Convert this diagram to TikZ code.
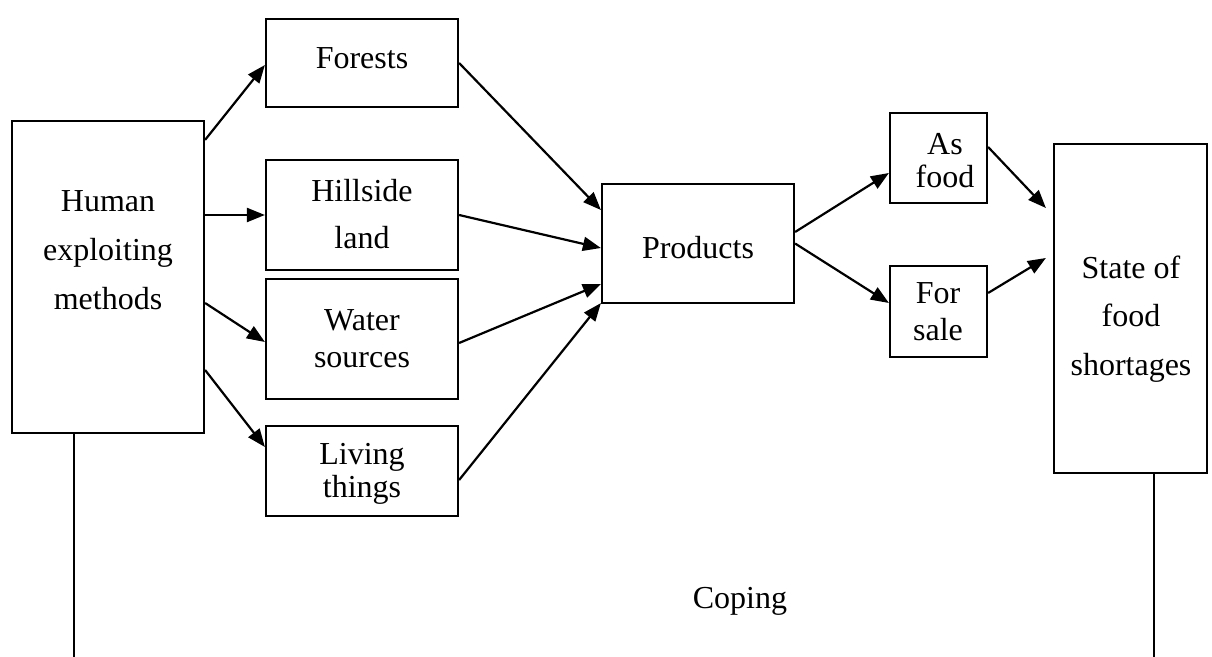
\documentclass[tikz,border=0pt]{standalone}
\usepackage{fontspec}
\setmainfont{Liberation Serif}
\usetikzlibrary{arrows.meta}
\begin{document}
\begin{tikzpicture}[x=0.5pt,y=-0.5pt,
  box/.style={draw,line width=1.1pt,inner sep=0pt,minimum width=#1},
  box/.default=96pt,
  lbl/.style={align=center,inner sep=0pt},
  arr/.style={line width=1.1pt,-{Triangle[length=9pt,width=7pt]}},
  ln/.style={line width=1.1pt}]
\useasboundingbox (0,0) rectangle (1212,657);
% boxes
\node[box,minimum height=156pt] (human) at (108,277) {};
\node[box,minimum height=44pt] (forests) at (362,63) {};
\node[box,minimum height=55pt] (hill) at (362,215) {};
\node[box,minimum height=60pt] (water) at (362,339) {};
\node[box,minimum height=45pt] (living) at (362,471) {};
\node[box,minimum height=59.5pt] (products) at (698,243.5) {};
\node[box=48.5pt,minimum height=45pt] (asfood) at (938.5,158) {};
\node[box=48.5pt,minimum height=45.5pt] (forsale) at (938.5,311.5) {};
\node[box=76.5pt,minimum height=164.5pt] (state) at (1130.5,308.5) {};
% texts
\node[lbl,font=\fontsize{16pt}{24.5pt}\selectfont] (humanT) at (108,250) {Human\\exploiting\\methods};
\node[lbl,font=\fontsize{16pt}{19pt}\selectfont] (forestsT) at (362,58) {Forests};
\node[lbl,font=\fontsize{16pt}{23.5pt}\selectfont] (hillT) at (362,214) {Hillside\\land};
\node[lbl,font=\fontsize{16pt}{18.5pt}\selectfont] (waterT) at (362,339) {Water\\sources};
\node[lbl,font=\fontsize{16pt}{16.5pt}\selectfont] (livingT) at (362,474) {Living\\things};
\node[lbl,font=\fontsize{16pt}{19pt}\selectfont] (productsT) at (698,248) {Products};
\node[lbl,font=\fontsize{16pt}{16.5pt}\selectfont] (asfoodT) at (945,161) {As\\food};
\node[lbl,font=\fontsize{16pt}{18.5pt}\selectfont] (forsaleT) at (938,312) {For\\sale};
\node[lbl,font=\fontsize{16pt}{24.25pt}\selectfont] (stateT) at (1131,319) {State of\\food\\shortages};
\node[lbl,font=\fontsize{16pt}{19pt}\selectfont] (coping) at (740,601) {Coping};
% free ends
\coordinate (hb) at (74,657);
\coordinate (sb) at (1154,657);
% connectors
\draw[arr] ([yshift=-10pt]human.north east) -- ([yshift=-1pt]forests.west);
\draw[arr] (human.east |- hill.west) -- (hill.west);
\draw[arr] ([yshift=-13pt]human.east) -- ([yshift=-1.5pt]water.west);
\draw[arr] ([yshift=-46.5pt]human.east) -- ([yshift=12pt]living.west);
\draw[arr] (forests.east) -- ([yshift=16.75pt]products.west);
\draw[arr] (hill.east) -- ([yshift=-2.25pt]products.west);
\draw[arr] ([yshift=-2pt]water.east) -- ([yshift=-20.25pt]products.west);
\draw[arr] ([yshift=-4.5pt]living.east) -- ([yshift=0.5pt]products.south west);
\draw[arr] ([yshift=5.75pt]products.east) -- ([yshift=-7.5pt]asfood.west);
\draw[arr] (products.east) -- ([yshift=4.25pt]forsale.west);
\draw[arr] ([yshift=5.5pt]asfood.east) -- ([xshift=-3.5pt,yshift=50.25pt]state.west);
\draw[arr] ([yshift=9.25pt]forsale.east) -- ([xshift=-3.5pt,yshift=25.25pt]state.west);
\draw[ln] (human.south -| hb) -- (hb);
\draw[ln] (state.south -| sb) -- (sb);
\end{tikzpicture}
\end{document}
